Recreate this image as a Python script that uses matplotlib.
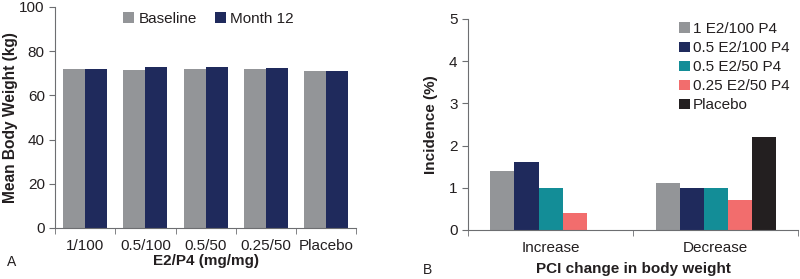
import matplotlib

matplotlib.use("Agg", force=True)

import matplotlib.pyplot as plt
import numpy as np
from matplotlib.ticker import FixedLocator

plt.rcParams["font.family"] = ["Liberation Sans", "DejaVu Sans"]
plt.rcParams["font.size"] = 11
plt.rcParams["text.color"] = "#231f20"
plt.rcParams["axes.labelcolor"] = "#231f20"
plt.rcParams["xtick.color"] = "#231f20"
plt.rcParams["ytick.color"] = "#231f20"

# panel A: mean body weight
doses = ["1/100", "0.5/100", "0.5/50", "0.25/50", "Placebo"]
baseline = [72.0, 71.5, 72.0, 72.0, 71.2]
month12 = [72.1, 72.8, 72.8, 72.5, 71.2]

# panel B: incidence of PCI change
changes = ["Increase", "Decrease"]
group_names = ["1 E2/100 P4", "0.5 E2/100 P4", "0.5 E2/50 P4", "0.25 E2/50 P4", "Placebo"]
incidence = [
    [1.4, 1.1],
    [1.6, 1.0],
    [1.0, 1.0],
    [0.4, 0.7],
    [0.0, 2.2],
]
group_colors = ["#939598", "#1f2a5c", "#138d97", "#f26d6d", "#231f20"]

spine_color = "#6d6e71"


def style_axis(ax, n_cat):
    for side in ("top", "right"):
        ax.spines[side].set_visible(False)
    for side in ("left", "bottom"):
        ax.spines[side].set_color(spine_color)
    ax.set_xlim(-0.5, n_cat - 0.5)
    ax.xaxis.set_minor_locator(FixedLocator(np.arange(n_cat + 1) - 0.5))
    ax.tick_params(axis="x", which="major", length=0, pad=8)
    ax.tick_params(axis="x", which="minor", length=4, color=spine_color)
    ax.tick_params(axis="y", length=4, color=spine_color)


fig = plt.figure(figsize=(8, 2.79), dpi=100)

ax_a = fig.add_axes([0.069, 0.183, 0.376, 0.792])
x = np.arange(len(doses))
w = 0.365
ax_a.bar(x - w / 2, baseline, w, color="#939598", label="Baseline")
ax_a.bar(x + w / 2, month12, w, color="#1f2a5c", label="Month 12")
ax_a.set_ylim(0, 100)
ax_a.set_yticks(np.arange(0, 101, 20))
ax_a.set_xticks(x)
ax_a.set_xticklabels(doses)
style_axis(ax_a, len(doses))
ax_a.set_ylabel("Mean Body Weight (kg)", fontweight="bold", fontsize=11.2, labelpad=1)
ax_a.set_xlabel("E2/P4 (mg/mg)", fontweight="bold", labelpad=1)
ax_a.legend(loc="upper center", ncol=2, frameon=False, handlelength=0.7,
            handleheight=0.7, handletextpad=0.3, columnspacing=1.2,
            bbox_to_anchor=(0.51, 1.04))

ax_b = fig.add_axes([0.585, 0.176, 0.413, 0.756])
xb = np.arange(len(changes))
wb = 0.146
for i, (name, vals, col) in enumerate(zip(group_names, incidence, group_colors)):
    ax_b.bar(xb + (i - 2) * wb, vals, wb, color=col, label=name)
ax_b.set_ylim(0, 5)
ax_b.set_yticks(np.arange(0, 6, 1))
ax_b.set_xticks(xb)
ax_b.set_xticklabels(changes)
style_axis(ax_b, len(changes))
ax_b.set_ylabel("Incidence (%)", fontweight="bold", labelpad=8)
ax_b.set_xlabel("PCI change in body weight", fontweight="bold", labelpad=5)
ax_b.legend(loc="upper right", frameon=False, handlelength=0.7, handleheight=0.7,
            handletextpad=0.2, labelspacing=0.33, bbox_to_anchor=(1.015, 1.05))

fig.text(0.009, 0.061, "A", fontsize=10, va="center")
fig.text(0.529, 0.032, "B", fontsize=10, va="center")

fig.savefig("out.png", dpi=100)
